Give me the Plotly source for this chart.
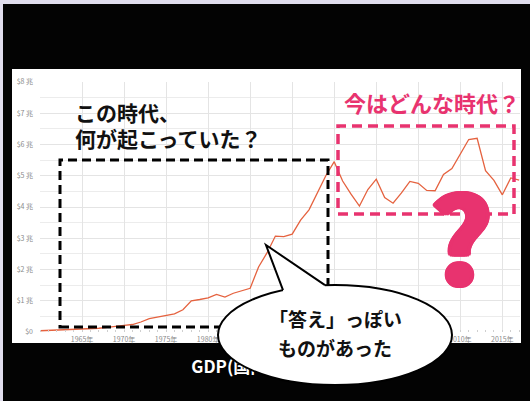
import math
import plotly.graph_objects as go

# ---- data: Japan GDP (trillion USD) ----
years = list(range(1960, 2018))
gdp = [0.04, 0.05, 0.06, 0.07, 0.08, 0.09, 0.11, 0.12, 0.15, 0.17,
       0.21, 0.24, 0.32, 0.43, 0.48, 0.52, 0.58, 0.71, 1.00, 1.04,
       1.09, 1.20, 1.12, 1.24, 1.32, 1.40, 2.08, 2.53, 3.07, 3.05,
       3.13, 3.58, 3.91, 4.45, 5.00, 5.45, 4.83, 4.41, 4.03, 4.56,
       4.89, 4.30, 4.12, 4.45, 4.82, 4.76, 4.53, 4.52, 5.04, 5.23,
       5.70, 6.16, 6.20, 5.16, 4.85, 4.39, 4.93, 4.86]

x_tick_years = [1960, 1965, 1970, 1975, 1980, 1985, 1990, 1995, 2000, 2005, 2010, 2015]
x_tick_labels = ["", "1965年", "1970年", "1975年", "1980年", "1985年", "1990年",
                 "1995年", "2000年", "2005年", "2010年", "2015年"]
y_tick_vals = [0, 1, 2, 3, 4, 5, 6, 7, 8]
y_tick_labels = ["$0", "$1 兆", "$2 兆", "$3 兆", "$4 兆", "$5 兆", "$6 兆", "$7 兆", "$8 兆"]

title_text = "GDP(国内総生産)"
q_left = ["この時代、", "何が起こっていた？"]
q_right = "今はどんな時代？"
bubble_lines = ["「答え」っぽい", "ものがあった"]

# ---- layout geometry (pixels) ----
W, H = 530, 401
L, R, T, B = 40, 10, 82, 69
PW, PH = W - L - R, H - T - B
PINK = "#e8336f"
JP = "Noto Sans CJK JP"


def px(x):
    return (x - L) / PW


def py(y):
    return (H - B - y) / PH


fig = go.Figure()
fig.add_trace(go.Scatter(x=years, y=gdp, mode="lines",
                         line=dict(color="#e5623f", width=1.3),
                         hoverinfo="skip", showlegend=False))

shapes = []
# black slide background and white chart card
shapes.append(dict(type="rect", xref="paper", yref="paper", layer="below",
                   x0=px(3), x1=px(531), y0=py(4), y1=py(402),
                   fillcolor="#030303", line=dict(width=0)))
shapes.append(dict(type="rect", xref="paper", yref="paper", layer="below",
                   x0=px(12), x1=px(521), y0=py(69), y1=py(343),
                   fillcolor="white", line=dict(width=0)))
# title as a shape label (so the bubble can cover it)
shapes.append(dict(type="rect", xref="paper", yref="paper", layer="above",
                   x0=px(178), x1=px(338), y0=py(358), y1=py(379),
                   fillcolor="rgba(0,0,0,0)", line=dict(width=0),
                   label=dict(text=title_text, textposition="middle center",
                              font=dict(family=JP, size=17, color="white", weight="bold"))))
# black dashed box
shapes.append(dict(type="rect", xref="paper", yref="paper", layer="above",
                   x0=px(60), x1=px(328), y0=py(327), y1=py(160),
                   line=dict(color="black", width=3, dash="9px,5px")))
# pink dashed box
shapes.append(dict(type="rect", xref="paper", yref="paper", layer="above",
                   x0=px(338), x1=px(514), y0=py(214), y1=py(126),
                   line=dict(color=PINK, width=3.5, dash="10px,6px")))

# speech bubble
cx, cy, rx, ry = 335, 335, 117, 50
shapes.append(dict(type="circle", xref="paper", yref="paper", layer="above",
                   x0=px(cx - rx), x1=px(cx + rx), y0=py(cy + ry), y1=py(cy - ry),
                   fillcolor="white", line=dict(color="black", width=2)))


def ell_top(x):
    return cy - ry * (1 - ((x - cx) / rx) ** 2) ** 0.5


tip = (266, 245)
b1 = (283, ell_top(283))
b2 = (325, ell_top(325))


def pt(p):
    return f"{px(p[0])},{py(p[1])}"


fill_path = (f"M {pt(tip)} L {pt(b1)} L {pt((b1[0] + 1, b1[1] + 6))} "
             f"L {pt((b2[0] - 1, b2[1] + 6))} L {pt(b2)} Z")
shapes.append(dict(type="path", xref="paper", yref="paper", layer="above",
                   path=fill_path, fillcolor="white", line=dict(width=0)))
shapes.append(dict(type="path", xref="paper", yref="paper", layer="above",
                   path=f"M {pt(b1)} L {pt(tip)} L {pt(b2)}",
                   fillcolor="rgba(0,0,0,0)", line=dict(color="black", width=2)))

# slightly thicken the big question mark with a small ring of same-colour shadows
offs = []
for k in range(12):
    ang = 2 * math.pi * k / 12
    offs.append((round(4 * math.cos(ang), 1), round(2 * math.sin(ang), 1)))
q_shadow = ", ".join(f"{a}px {b}px 0 {PINK}" for a, b in offs)

ann = []
ann.append(dict(text=q_left[0], x=px(73), y=py(112), xanchor="left", yanchor="middle",
                font=dict(family=JP, size=21, color="#111", weight="bold")))
ann.append(dict(text=q_left[1], x=px(73), y=py(138), xanchor="left", yanchor="middle",
                font=dict(family=JP, size=21, color="#111", weight="bold")))
ann.append(dict(text=q_right, x=px(342), y=py(102), xanchor="left", yanchor="middle",
                font=dict(family=JP, size=22, color=PINK, weight="bold")))
ann.append(dict(text="?", x=px(461), y=py(232), xanchor="center", yanchor="middle",
                font=dict(family=JP, size=118, color=PINK, weight="bold",
                          shadow=q_shadow)))
ann.append(dict(text=bubble_lines[0], x=px(335), y=py(318), xanchor="center", yanchor="middle",
                font=dict(family=JP, size=19, color="#111", weight="bold")))
ann.append(dict(text=bubble_lines[1], x=px(335), y=py(347), xanchor="center", yanchor="middle",
                font=dict(family=JP, size=19, color="#111", weight="bold")))
for a in ann:
    a.update(xref="paper", yref="paper", showarrow=False)

fig.update_layout(
    width=W, height=H,
    margin=dict(l=L, r=R, t=T, b=B, pad=0),
    paper_bgcolor="#e1deee",
    plot_bgcolor="white",
    shapes=shapes,
    annotations=ann,
    showlegend=False,
    xaxis=dict(range=[1960, 2017.1], tickvals=x_tick_years, ticktext=x_tick_labels,
               showgrid=True, gridcolor="#e4e4e4", gridwidth=1, zeroline=False,
               showline=False, ticks="", ticklabelstandoff=2,
               tickfont=dict(family=JP, size=7, color="#8a8a8a"),
               minor=dict(dtick=1, tick0=1960, ticks="inside", ticklen=2,
                          tickcolor="#cfcfcf", showgrid=False)),
    yaxis=dict(range=[0, 8], tickvals=y_tick_vals, ticktext=y_tick_labels,
               showgrid=True, gridcolor="#e4e4e4", gridwidth=1, zeroline=False,
               showline=False, ticks="", ticklabelstandoff=6,
               tickfont=dict(family=JP, size=7, color="#8a8a8a"),
               minor=dict(dtick=0.5, showgrid=True, gridcolor="#ececec")),
)

fig.write_html("out.html", config={"displayModeBar": False},
               post_script="document.body.style.margin='0';")
